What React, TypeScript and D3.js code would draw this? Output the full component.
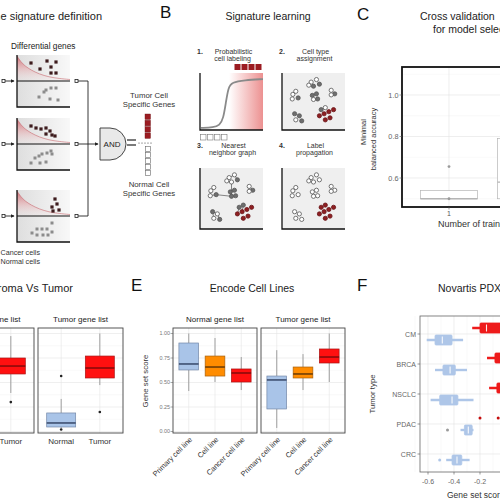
import React from "react";
import * as d3 from "d3";

const FONT = "'Liberation Sans', Arial, Helvetica, sans-serif";

// ---------------- Panel A : gene signature definition ----------------
const A_PLOT_TOPS = [55, 118, 190];
const A_UP_GENES = [
  [[14, 8], [30, 6], [39, 7], [34, 12], [23, 14], [34, 18], [39, 18]],
  [[14, 8], [19, 10], [24, 11], [29, 10], [33, 13], [29, 16], [35, 17], [38, 18]],
  [[35, 17], [40, 14], [38, 9], [42, 20], [36, 21]],
];
const A_DOWN_GENES = [
  [[34, 33], [39, 33], [29, 35], [27, 37], [22, 42], [33, 44], [41, 45]],
  [[34, 33], [30, 35], [25, 36], [22, 38], [18, 40], [14, 45], [23, 45], [29, 44], [35, 36]],
  [[35, 33], [30, 39], [25, 39], [20, 39], [15, 43], [20, 45], [26, 45], [31, 45], [35, 42]],
];
const A_DECAY = [[0, 1], [4, 7], [8, 11], [14, 15], [22, 19], [32, 22], [42, 23.5], [53, 24.5]];
const A_TUMOR_SQUARES = [0, 1, 2, 3];
const A_NORMAL_SQUARES = [0, 1, 2, 3, 4];

// ---------------- Panel B : signature learning ----------------
const B_SIGMOID = [[0, 0.98], [0.2, 0.97], [0.3, 0.93], [0.36, 0.8], [0.4, 0.5], [0.44, 0.2], [0.5, 0.1], [0.7, 0.06], [1, 0.04]];
// x, y (fractions of plot), type in plot 2 / plot 3 / plot 4 : o open, g grey, r red
const B_CELLS: [number, number, string, string, string][] = [
  [0.46, 0.12, "o", "o", "o"], [0.55, 0.07, "o", "o", "o"], [0.6, 0.16, "g", "g", "o"], [0.5, 0.2, "g", "o", "o"], [0.42, 0.18, "o", "o", "o"],
  [0.15, 0.36, "o", "o", "o"], [0.2, 0.3, "o", "o", "o"], [0.14, 0.45, "o", "o", "o"], [0.24, 0.43, "g", "g", "o"],
  [0.48, 0.38, "g", "g", "o"], [0.55, 0.35, "g", "g", "o"], [0.5, 0.46, "o", "g", "o"], [0.57, 0.45, "g", "g", "o"],
  [0.8, 0.28, "o", "o", "o"], [0.86, 0.35, "g", "g", "o"], [0.8, 0.37, "o", "o", "o"],
  [0.18, 0.74, "g", "g", "o"], [0.26, 0.78, "g", "o", "o"], [0.2, 0.86, "o", "o", "o"], [0.3, 0.88, "g", "g", "o"],
  [0.6, 0.78, "r", "r", "r"], [0.68, 0.74, "r", "r", "r"], [0.76, 0.7, "r", "r", "r"], [0.84, 0.66, "r", "r", "r"],
  [0.63, 0.66, "g", "g", "r"], [0.7, 0.62, "o", "g", "r"], [0.78, 0.82, "r", "r", "r"], [0.7, 0.86, "r", "r", "r"],
];
const B_EDGES = [[0, 1], [1, 2], [0, 4], [4, 3], [3, 11], [11, 9], [9, 10], [11, 8], [8, 7], [7, 5], [5, 6], [13, 15], [13, 14], [16, 17], [17, 19], [18, 16], [24, 25], [24, 20], [25, 21]];
const B_LABEL_SQUARES = [0, 1, 2, 3];

// ---------------- Panel C : cross validation ----------------
const C_GROUPS = [1, 2];
const C_STATS = [[0.5, 0.5, 0.5, 0.54, 0.54], [0.5, 0.5, 0.58, 0.79, 0.95]];
const C_OUTLIERS = [[0.655, 0.5], []];
const C_TICKS = [0.6, 0.8, 1.0];

// ---------------- Panel D : stroma vs tumor ----------------
const D_GROUPS = ["Normal", "Tumor"];
const D_NORMAL_LIST_STATS = [[0.45, 0.62, 0.7, 0.78, 0.95], [0.393, 0.587, 0.668, 0.75, 0.974]];
const D_NORMAL_LIST_OUT = [[], [0.3]];
const D_TUMOR_LIST_STATS = [[0.036, 0.046, 0.087, 0.189, 0.332], [0.474, 0.546, 0.648, 0.77, 1.0]];
const D_TUMOR_LIST_OUT = [[0.566, 0.02], [0.199]];

// ---------------- Panel E : Encode cell lines ----------------
const E_GROUPS = ["Primary cell line", "Cell line", "Cancer cell line"];
const E_NORMAL_LIST_STATS = [[0.413, 0.628, 0.689, 0.903, 1.0], [0.505, 0.566, 0.658, 0.77, 0.954], [0.423, 0.505, 0.597, 0.638, 0.76]];
const E_TUMOR_LIST_STATS = [[0.036, 0.23, 0.526, 0.566, 0.83], [0.423, 0.546, 0.587, 0.658, 0.79], [0.505, 0.699, 0.76, 0.842, 1.0]];
const SCORE_TICKS = [0, 0.25, 0.5, 0.75, 1];
const SCORE_LABELS = ["0.00", "0.25", "0.50", "0.75", "1.00"];

// ---------------- Panel F : Novartis PDX ----------------
const F_TYPES = ["CM", "BRCA", "NSCLC", "PDAC", "CRC"];
const F_TUMOR_STATS = [[-0.26, -0.2, -0.15, -0.04, 0.06], [-0.146, -0.085, -0.02, 0.05, 0.15], [-0.13, -0.07, 0.0, 0.06, 0.16], [-0.03, 0.02, 0.06, 0.1, 0.15], [0.0, 0.05, 0.1, 0.15, 0.2]];
const F_TUMOR_OUT = [[], [], [], [-0.2, -0.06], []];
const F_NORMAL_STATS = [[-0.61, -0.546, -0.49, -0.415, -0.33], [-0.546, -0.485, -0.43, -0.39, -0.3], [-0.58, -0.51, -0.415, -0.37, -0.25], [-0.35, -0.32, -0.29, -0.26, -0.25], [-0.46, -0.415, -0.377, -0.34, -0.28]];
const F_NORMAL_OUT = [[], [], [], [-0.45], [-0.51]];
const F_XTICKS = [-0.6, -0.4, -0.2, 0];
const F_XLABELS = ["-0.6", "-0.4", "-0.2", "0.0"];

// colours
const BLUE = { fill: "#a9c4e8", stroke: "#7488a8", med: "#2f3f60" };
const ORANGE = { fill: "#ff8c00", stroke: "#a8600a", med: "#5c3305" };
const RED = { fill: "#ff1010", stroke: "#a81515", med: "#7a0a0a" };
const E_COLORS = [BLUE, ORANGE, RED];
const D_COLORS = [BLUE, RED];

type Col = { fill: string; stroke: string; med: string };

function VBox({ cx, hw, s, y, col, whisk = "#8a8a8a", outs = [], outColor = "#222", r = 1.3 }:
  { cx: number; hw: number; s: number[]; y: (v: number) => number; col: Col; whisk?: string; outs?: number[]; outColor?: string; r?: number }) {
  const [lo, q1, med, q3, hi] = s;
  return (
    <g>
      <line x1={cx} x2={cx} y1={y(hi)} y2={y(q3)} stroke={whisk} strokeWidth={0.8} />
      <line x1={cx} x2={cx} y1={y(q1)} y2={y(lo)} stroke={whisk} strokeWidth={0.8} />
      <rect x={cx - hw} y={y(q3)} width={2 * hw} height={Math.max(0.5, y(q1) - y(q3))} fill={col.fill} stroke={col.stroke} strokeWidth={0.7} />
      <line x1={cx - hw} x2={cx + hw} y1={y(med)} y2={y(med)} stroke={col.med} strokeWidth={1.4} />
      {outs.map((o, i) => <circle key={i} cx={cx} cy={y(o)} r={r} fill={outColor} />)}
    </g>
  );
}

function HBox({ cy, hh, s, x, color, outs = [], outColor }:
  { cy: number; hh: number; s: number[]; x: (v: number) => number; color: string; outs?: number[]; outColor: string }) {
  const [lo, q1, med, q3, hi] = s;
  return (
    <g>
      <line x1={x(lo)} x2={x(hi)} y1={cy} y2={cy} stroke={color} strokeWidth={2.4} />
      <rect x={x(q1)} y={cy - hh} width={x(q3) - x(q1)} height={2 * hh} fill={color} stroke={color} strokeWidth={0.8} rx={1} />
      <line x1={x(med)} x2={x(med)} y1={cy - hh + 1.5} y2={cy + hh - 1.5} stroke="#ffffff" strokeWidth={1.1} opacity={0.9} />
      {outs.map((o, i) => <circle key={i} cx={x(o)} cy={cy} r={1.5} fill={outColor} />)}
    </g>
  );
}

function PanelGrid({ x0, x1, y, cats, xs }: { x0: number; x1: number; y: d3.ScaleLinear<number, number>; cats: number; xs: (i: number) => number }) {
  const minor = [0.125, 0.375, 0.625, 0.875];
  return (
    <g>
      {minor.map((m) => <line key={"m" + m} x1={x0} x2={x1} y1={y(m)} y2={y(m)} stroke="#f3f3f3" strokeWidth={0.5} />)}
      {SCORE_TICKS.map((m) => <line key={"M" + m} x1={x0} x2={x1} y1={y(m)} y2={y(m)} stroke="#e4e4e4" strokeWidth={0.6} />)}
      {d3.range(cats).map((i) => <line key={"v" + i} x1={xs(i)} x2={xs(i)} y1={328} y2={433} stroke="#e4e4e4" strokeWidth={0.6} />)}
    </g>
  );
}

export default function App() {
  // shared score scale for D and E
  const yS = d3.scaleLinear().domain([0, 1]).range([431.5, 333.5]);

  // Panel A helpers
  const xA = d3.scaleLinear().domain([0, 53]).range([17, 70]);
  const decayLine = (top: number) => {
    const yA = d3.scaleLinear().domain([0, 52]).range([top, top + 52]);
    return {
      yA,
      area: d3.area<number[]>().x((d) => xA(d[0])).y0(yA(26)).y1((d) => yA(d[1])).curve(d3.curveBasis)(A_DECAY) || "",
      line: d3.line<number[]>().x((d) => xA(d[0])).y((d) => yA(d[1])).curve(d3.curveBasis)(A_DECAY) || "",
    };
  };

  // Panel B helpers
  const bPlots = [
    { x0: 200, y0: 73, x1: 263, y1: 130 },
    { x0: 282, y0: 73, x1: 345, y1: 130 },
    { x0: 200, y0: 168, x1: 263, y1: 229 },
    { x0: 282, y0: 168, x1: 345, y1: 229 },
  ];
  const p1 = bPlots[0];
  const sx1 = d3.scaleLinear().domain([0, 1]).range([p1.x0 + 1, p1.x1]);
  const sy1 = d3.scaleLinear().domain([0, 1]).range([p1.y0 + 4, p1.y1 - 1]);
  const sigPath = d3.line<number[]>().x((d) => sx1(d[0])).y((d) => sy1(d[1])).curve(d3.curveBasis)(B_SIGMOID) || "";

  // Panel C
  const xC = d3.scaleLinear().domain([1, 2]).range([449, 526]);
  const yC = d3.scaleLinear().domain([0.6, 1.0]).range([178, 95]);

  // Panel D panels
  const dPanels = [
    { x0: -51, x1: 34, stats: D_NORMAL_LIST_STATS, outs: D_NORMAL_LIST_OUT, title: "Normal gene list" },
    { x0: 38, x1: 123, stats: D_TUMOR_LIST_STATS, outs: D_TUMOR_LIST_OUT, title: "Tumor gene list" },
  ];
  const ePanels = [
    { x0: 173, x1: 257, stats: E_NORMAL_LIST_STATS, title: "Normal gene list" },
    { x0: 261, x1: 345, stats: E_TUMOR_LIST_STATS, title: "Tumor gene list" },
  ];

  // Panel F
  const xF = d3.scaleLinear().domain([-0.6, 0]).range([428, 506]);
  const yF = d3.scaleLinear().domain([0.4, 5.6]).range([316, 472]);

  const cellFill = (t: string) => (t === "r" ? "#8e1f22" : t === "g" ? "#6e6e6e" : "#ffffff");
  const cellStroke = (t: string) => (t === "r" ? "#6a1416" : "#555555");

  return (
    <svg width={500} height={500} viewBox="0 0 500 500" style={{ position: "absolute", left: 0, top: 0, background: "#fff" }} fontFamily={FONT}>
      <defs>
        <linearGradient id="aBg" x1="0" x2="1" y1="0" y2="0">
          <stop offset="0" stopColor="#dedede" />
          <stop offset="1" stopColor="#f8f8f8" />
        </linearGradient>
        <linearGradient id="aPink" x1="0" x2="0" y1="0" y2="1">
          <stop offset="0" stopColor="#cf6b72" stopOpacity={0.95} />
          <stop offset="0.5" stopColor="#e6b2b5" stopOpacity={0.7} />
          <stop offset="1" stopColor="#f2e6e6" stopOpacity={0.2} />
        </linearGradient>
        <linearGradient id="bRed" x1="0" x2="1" y1="0" y2="0">
          <stop offset="0" stopColor="#e04848" stopOpacity={0} />
          <stop offset="1" stopColor="#e04848" stopOpacity={0.6} />
        </linearGradient>
        <marker id="arr" viewBox="0 0 6 6" refX="5" refY="3" markerWidth="4" markerHeight="4" orient="auto">
          <path d="M0,0 L6,3 L0,6 Z" fill="#222" />
        </marker>
      </defs>

      {/* ================= Panel A ================= */}
      <text x={102} y={20} fontSize={11} textAnchor="end" fill="#222">Gene signature definition</text>
      <text x={11} y={49} fontSize={8.3} fill="#222">Differential genes</text>
      {A_PLOT_TOPS.map((top, i) => {
        const { yA, area, line } = decayLine(top);
        const mid = yA(26);
        return (
          <g key={"ap" + i}>
            <rect x={17} y={top} width={53} height={52} fill="url(#aBg)" />
            <path d={area} fill="url(#aPink)" />
            <path d={line} fill="none" stroke="#c86a70" strokeWidth={0.6} />
            {A_UP_GENES[i].map((p, j) => (
              <rect key={j} x={xA(p[0]) - 1.6} y={yA(p[1]) - 1.6} width={3.2} height={3.2} fill="#3d1b1d" />
            ))}
            {A_DOWN_GENES[i].map((p, j) => (
              <rect key={j} x={xA(p[0]) - 1.5} y={yA(p[1]) - 1.5} width={3} height={3} fill="#8c8c8c" />
            ))}
            <line x1={17} x2={70} y1={mid} y2={mid} stroke="#111" strokeWidth={1} />
            <path d={`M17,${top} V${top + 52} H70`} fill="none" stroke="#111" strokeWidth={1.3} />
            {/* input arrow */}
            <rect x={2} y={mid - 1.5} width={3} height={3} fill="none" stroke="#222" strokeWidth={0.8} />
            <line x1={5} x2={14} y1={mid} y2={mid} stroke="#222" strokeWidth={0.9} markerEnd="url(#arr)" />
            {/* output connector */}
            <rect x={75} y={mid - 1.5} width={3} height={3} fill="#fff" stroke="#222" strokeWidth={0.8} />
            <line x1={78} x2={88} y1={mid} y2={mid} stroke="#222" strokeWidth={0.9} />
          </g>
        );
      })}
      <line x1={88} x2={88} y1={decayLine(A_PLOT_TOPS[0]).yA(26)} y2={decayLine(A_PLOT_TOPS[2]).yA(26)} stroke="#222" strokeWidth={0.9} />
      <line x1={88} x2={98} y1={144} y2={144} stroke="#222" strokeWidth={0.9} markerEnd="url(#arr)" />
      <path d="M100,128 H110 A16,16 0 0 1 110,160 H100 Z" fill="#e9e9e9" stroke="#333" strokeWidth={0.9} />
      <text x={112} y={147} fontSize={8} textAnchor="middle" fill="#222">AND</text>
      <line x1={127} x2={136} y1={140} y2={140} stroke="#333" strokeWidth={1.3} />
      <line x1={127} x2={136} y1={145} y2={145} stroke="#333" strokeWidth={1.3} />
      {[139, 142, 145, 148, 151].map((x) => <circle key={x} cx={x} cy={143} r={0.55} fill="#333" />)}
      {A_TUMOR_SQUARES.map((i) => <rect key={"t" + i} x={145} y={114 + i * 6.3} width={5.5} height={5.5} fill="#9b1c22" stroke="#6d1418" strokeWidth={0.4} />)}
      {A_NORMAL_SQUARES.map((i) => <rect key={"n" + i} x={145.5} y={146.5 + i * 6} width={4.8} height={4.8} fill="#fff" stroke="#666" strokeWidth={0.6} />)}
      <text x={149} y={98} fontSize={7.8} textAnchor="middle" fill="#333">Tumor Cell</text>
      <text x={149} y={107} fontSize={7.8} textAnchor="middle" fill="#333">Specific Genes</text>
      <text x={149} y={187} fontSize={7.8} textAnchor="middle" fill="#333">Normal Cell</text>
      <text x={149} y={196} fontSize={7.8} textAnchor="middle" fill="#333">Specific Genes</text>
      <text x={40} y={255} fontSize={7.2} textAnchor="end" fill="#333">Cancer cells</text>
      <text x={40} y={264} fontSize={7.2} textAnchor="end" fill="#333">Normal cells</text>

      {/* ================= Panel B ================= */}
      <text x={160} y={18} fontSize={17} fill="#111">B</text>
      <text x={268} y={20} fontSize={10.5} textAnchor="middle" fill="#222">Signature learning</text>
      {[
        ["1.", "Probabilistic", "cell labeling"],
        ["2.", "Cell type", "assignment"],
        ["3.", "Nearest", "neighbor graph"],
        ["4.", "Label", "propagation"],
      ].map((t, i) => {
        const p = bPlots[i];
        const cx = (p.x0 + p.x1) / 2;
        const by = i < 2 ? 54 : 147.5;
        return (
          <g key={"bt" + i} fontSize={7} fill="#333">
            <text x={p.x0 - 3} y={by} fontWeight="bold">{t[0]}</text>
            <text x={cx + 2} y={by} textAnchor="middle">{t[1]}</text>
            <text x={cx + 1} y={by + 7.2} textAnchor="middle">{t[2]}</text>
          </g>
        );
      })}
      {/* plot 1 */}
      <rect x={229} y={p1.y0} width={p1.x1 - 229} height={p1.y1 - p1.y0} fill="url(#bRed)" />
      <path d={sigPath} fill="none" stroke="#8a8a8a" strokeWidth={1.8} />
      <path d={`M${p1.x0},${p1.y0} V${p1.y1} H${p1.x1}`} fill="none" stroke="#111" strokeWidth={1.3} />
      {B_LABEL_SQUARES.map((i) => <rect key={"rs" + i} x={234.5 + i * 7} y={64} width={6} height={6} fill="#9b1c22" />)}
      {B_LABEL_SQUARES.map((i) => <rect key={"ws" + i} x={200.5 + i * 7} y={134.5} width={5.5} height={5.5} fill="#fff" stroke="#777" strokeWidth={0.6} />)}
      {/* plots 2-4 */}
      {[1, 2, 3].map((k) => {
        const p = bPlots[k];
        const sx = d3.scaleLinear().domain([0, 1]).range([p.x0 + 2, p.x1 - 2]);
        const sy = d3.scaleLinear().domain([0, 1]).range([p.y0 + 3, p.y1 - 3]);
        const typeIdx = k + 1;
        return (
          <g key={"bp" + k}>
            <rect x={p.x0} y={p.y0} width={p.x1 - p.x0} height={p.y1 - p.y0} fill="#efefef" />
            {k === 2 && B_EDGES.map((e, j) => (
              <line key={j} x1={sx(B_CELLS[e[0]][0])} y1={sy(B_CELLS[e[0]][1])} x2={sx(B_CELLS[e[1]][0])} y2={sy(B_CELLS[e[1]][1])} stroke="#555" strokeWidth={0.7} />
            ))}
            {B_CELLS.map((c, j) => {
              const t = c[typeIdx] as string;
              return <circle key={j} cx={sx(c[0])} cy={sy(c[1])} r={2.1} fill={cellFill(t)} stroke={cellStroke(t)} strokeWidth={0.8} />;
            })}
            <path d={`M${p.x0},${p.y0} V${p.y1} H${p.x1}`} fill="none" stroke="#111" strokeWidth={1.3} />
          </g>
        );
      })}

      {/* ================= Panel C ================= */}
      <text x={357} y={20} fontSize={17} fill="#111">C</text>
      <text x={420} y={20} fontSize={10.5} fill="#222">Cross validation</text>
      <text x={433} y={33} fontSize={10.5} fill="#222">for model selection</text>
      <g>
        {[0.5, 0.7, 0.9, 1.1].map((v) => <line key={v} x1={402} x2={520} y1={yC(v)} y2={yC(v)} stroke="#f2f2f2" strokeWidth={0.5} />)}
        {C_TICKS.map((v) => <line key={v} x1={402} x2={520} y1={yC(v)} y2={yC(v)} stroke="#e2e2e2" strokeWidth={0.6} />)}
        {C_GROUPS.map((g) => <line key={g} x1={xC(g)} x2={xC(g)} y1={67} y2={207} stroke="#e2e2e2" strokeWidth={0.6} />)}
        {C_GROUPS.map((g, i) => (
          <VBox key={g} cx={xC(g)} hw={28.5} s={C_STATS[i]} y={yC} col={{ fill: "#fff", stroke: "#b5b5b5", med: "#b5b5b5" }} whisk="#b5b5b5" outs={C_OUTLIERS[i]} outColor="#9a9a9a" r={1.4} />
        ))}
        <rect x={402} y={67} width={130} height={140} fill="none" stroke="#111" strokeWidth={1.8} />
        {C_TICKS.map((v) => (
          <g key={v}>
            <line x1={399.5} x2={402} y1={yC(v)} y2={yC(v)} stroke="#555" strokeWidth={0.6} />
            <text x={398.5} y={yC(v) + 2.6} fontSize={7.3} textAnchor="end" fill="#666">{v.toFixed(1)}</text>
          </g>
        ))}
        {C_GROUPS.map((g) => (
          <g key={g}>
            <line x1={xC(g)} x2={xC(g)} y1={207} y2={209.5} stroke="#555" strokeWidth={0.6} />
            <text x={xC(g)} y={216} fontSize={7} textAnchor="middle" fill="#555">{g}</text>
          </g>
        ))}
        <text x={438} y={227} fontSize={9} fill="#333">Number of training datasets</text>
        <text transform="translate(366,132) rotate(-90)" fontSize={7.5} textAnchor="middle" fill="#333">Minimal</text>
        <text transform="translate(376,139) rotate(-90)" fontSize={7.5} textAnchor="middle" fill="#333">balanced accuracy</text>
      </g>

      {/* ================= Panel D ================= */}
      <text x={73} y={292} fontSize={11} textAnchor="end" fill="#222">Stroma Vs Tumor</text>
      {dPanels.map((p, k) => {
        const xs = d3.scaleLinear().domain([0.4, D_GROUPS.length + 0.6]).range([p.x0, p.x1]);
        const unit = xs(1) - xs(0);
        return (
          <g key={"dp" + k}>
            <PanelGrid x0={p.x0} x1={p.x1} y={yS} cats={D_GROUPS.length} xs={(i) => xs(i + 1)} />
            {D_GROUPS.map((g, i) => (
              <VBox key={g} cx={xs(i + 1)} hw={unit * 0.375} s={p.stats[i]} y={yS} col={D_COLORS[i]} outs={p.outs[i]} />
            ))}
            <rect x={p.x0} y={328} width={p.x1 - p.x0} height={105} fill="none" stroke="#444" strokeWidth={0.9} />
            <text x={(p.x0 + p.x1) / 2} y={322} fontSize={8} textAnchor="middle" fill="#222">{p.title}</text>
            {D_GROUPS.map((g, i) => (
              <text key={g} x={xs(i + 1)} y={443.5} fontSize={8} textAnchor="middle" fill="#333">{g}</text>
            ))}
          </g>
        );
      })}

      {/* ================= Panel E ================= */}
      <text x={131} y={291} fontSize={17} fill="#111">E</text>
      <text x={252} y={292} fontSize={10.5} textAnchor="middle" fill="#222">Encode Cell Lines</text>
      {ePanels.map((p, k) => {
        const xs = d3.scaleLinear().domain([0.4, E_GROUPS.length + 0.6]).range([p.x0, p.x1]);
        const unit = xs(1) - xs(0);
        return (
          <g key={"ep" + k}>
            <PanelGrid x0={p.x0} x1={p.x1} y={yS} cats={E_GROUPS.length} xs={(i) => xs(i + 1)} />
            {E_GROUPS.map((g, i) => (
              <VBox key={g} cx={xs(i + 1)} hw={unit * 0.375} s={p.stats[i]} y={yS} col={E_COLORS[i]} />
            ))}
            <rect x={p.x0} y={328} width={p.x1 - p.x0} height={105} fill="none" stroke="#444" strokeWidth={0.9} />
            <text x={(p.x0 + p.x1) / 2} y={322} fontSize={8} textAnchor="middle" fill="#222">{p.title}</text>
            {E_GROUPS.map((g, i) => (
              <text key={g} transform={`translate(${xs(i + 1) + 4},${440}) rotate(-45)`} fontSize={7.4} textAnchor="end" fill="#333">{g}</text>
            ))}
          </g>
        );
      })}
      {SCORE_TICKS.map((v, i) => (
        <g key={v}>
          <line x1={170.5} x2={173} y1={yS(v)} y2={yS(v)} stroke="#555" strokeWidth={0.5} />
          <text x={170} y={yS(v) + 1.8} fontSize={5.4} textAnchor="end" fill="#777">{SCORE_LABELS[i]}</text>
        </g>
      ))}
      <text transform="translate(148,381) rotate(-90)" fontSize={7.8} textAnchor="middle" fill="#333">Gene set score</text>

      {/* ================= Panel F ================= */}
      <text x={357} y={291} fontSize={17} fill="#111">F</text>
      <text x={438} y={292} fontSize={10.5} fill="#222">Novartis PDX data</text>
      <g>
        {[-0.7, -0.5, -0.3, -0.1].map((v) => <line key={v} x1={xF(v)} x2={xF(v)} y1={316} y2={472} stroke="#f2f2f2" strokeWidth={0.5} />)}
        {F_XTICKS.map((v) => <line key={v} x1={xF(v)} x2={xF(v)} y1={316} y2={472} stroke="#e2e2e2" strokeWidth={0.6} />)}
        {F_TYPES.map((t, i) => <line key={t} x1={420} x2={520} y1={yF(i + 1)} y2={yF(i + 1)} stroke="#e2e2e2" strokeWidth={0.6} />)}
        {F_TYPES.map((t, i) => (
          <g key={t}>
            <HBox cy={yF(i + 1) - 6} hh={5} s={F_TUMOR_STATS[i]} x={xF} color="#ee1b1b" outs={F_TUMOR_OUT[i]} outColor="#c40d0d" />
            <HBox cy={yF(i + 1) + 6} hh={5} s={F_NORMAL_STATS[i]} x={xF} color="#aec6e8" outs={F_NORMAL_OUT[i]} outColor={i === 3 ? "#9a9a9a" : "#aec6e8"} />
          </g>
        ))}
        <rect x={420} y={316} width={110} height={156} fill="none" stroke="#666" strokeWidth={0.8} />
        {F_TYPES.map((t, i) => (
          <g key={t}>
            <line x1={417.5} x2={420} y1={yF(i + 1)} y2={yF(i + 1)} stroke="#555" strokeWidth={0.6} />
            <text x={416} y={yF(i + 1) + 2.5} fontSize={7} textAnchor="end" fill="#666">{t}</text>
          </g>
        ))}
        {F_XTICKS.map((v, i) => (
          <g key={v}>
            <line x1={xF(v)} x2={xF(v)} y1={472} y2={474.5} stroke="#555" strokeWidth={0.6} />
            <text x={xF(v)} y={484} fontSize={7} textAnchor="middle" fill="#666">{F_XLABELS[i]}</text>
          </g>
        ))}
        <text x={447} y={498} fontSize={8.5} fill="#333">Gene set score</text>
        <text transform="translate(375,394) rotate(-90)" fontSize={7.8} textAnchor="middle" fill="#333">Tumor type</text>
      </g>
    </svg>
  );
}
